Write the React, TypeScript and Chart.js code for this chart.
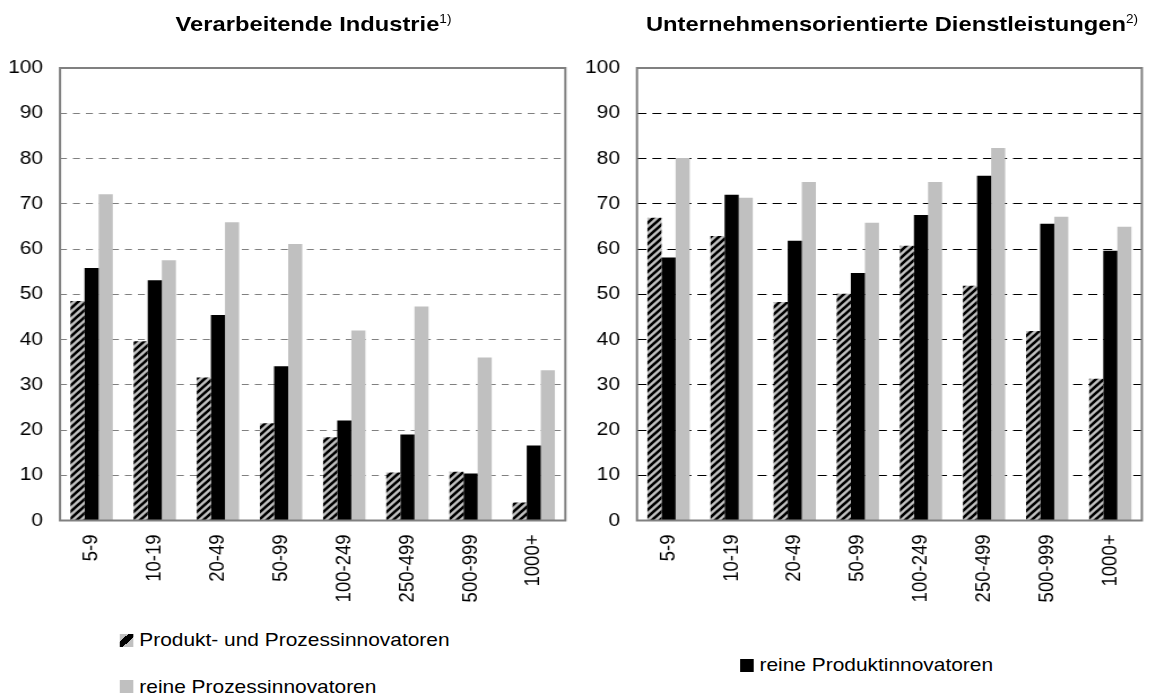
import React, { useEffect, useRef } from 'react';
import { Chart, registerables } from 'chart.js';

Chart.register(...registerables);

// ---------- data ----------
const categories = ['5-9', '10-19', '20-49', '50-99', '100-249', '250-499', '500-999', '1000+'];
const seriesNames = [
  'Produkt- und Prozessinnovatoren',
  'reine Produktinnovatoren',
  'reine Prozessinnovatoren',
];

const industryProduktProzess = [48.5, 39.6, 31.6, 21.5, 18.4, 10.6, 10.8, 4.0];
const industryProdukt = [55.8, 53.1, 45.4, 34.1, 22.1, 19.0, 10.4, 16.6];
const industryProzess = [72.1, 57.5, 65.9, 61.1, 42.0, 47.3, 36.0, 33.2];

const servicesProduktProzess = [66.9, 62.9, 48.3, 50.1, 60.7, 51.9, 41.9, 31.3];
const servicesProdukt = [58.1, 72.0, 61.8, 54.7, 67.5, 76.2, 65.6, 59.6];
const servicesProzess = [80.1, 71.3, 74.8, 65.8, 74.8, 82.3, 67.1, 64.9];

const yMin = 0;
const yMax = 100;
const yStep = 10;

const titleIndustry = 'Verarbeitende Industrie';
const noteIndustry = '1)';
const titleServices = 'Unternehmensorientierte Dienstleistungen';
const noteServices = '2)';

// ---------- style / layout ----------
const FONT = '"Liberation Sans", Arial, Helvetica, sans-serif';
const S = 1.13; // horizontal stretch of the reference picture
const CANVAS_H = 620;
const PLOT_TOP = 68;
const PLOT_BOTTOM = 520.5;
const GRAY = '#c0c0c0';

Chart.defaults.font.family = FONT;

function makeHatch(): CanvasPattern | string {
  const c = document.createElement('canvas');
  const n = 7;
  c.width = n;
  c.height = n;
  const g = c.getContext('2d');
  if (!g) return GRAY;
  g.fillStyle = GRAY;
  g.fillRect(0, 0, n, n);
  g.strokeStyle = '#000';
  g.lineWidth = 2.6;
  g.lineCap = 'square';
  const seg = (x1: number, y1: number, x2: number, y2: number) => {
    g.beginPath();
    g.moveTo(x1, y1);
    g.lineTo(x2, y2);
    g.stroke();
  };
  seg(-1, n + 1, n + 1, -1);
  seg(-n / 2 - 1, n / 2 + 1, n / 2 + 1, -n / 2 - 1);
  seg(n / 2 - 1, n * 1.5 + 1, n * 1.5 + 1, n / 2 - 1);
  const p = g.createPattern(c, 'repeat');
  return p || GRAY;
}

const framePlugin = {
  id: 'frame',
  afterDatasetsDraw(chart: any, _args: any, opts: any) {
    const { ctx, chartArea: a } = chart;
    ctx.save();
    ctx.strokeStyle = opts.color || '#808080';
    ctx.lineWidth = opts.width || 2;
    ctx.setLineDash([]);
    ctx.strokeRect(a.left, a.top, a.right - a.left, a.bottom - a.top);
    ctx.restore();
  },
};

type PanelProps = {
  left: number;
  width: number;
  pp: number[];
  prod: number[];
  proz: number[];
  gridColor: string;
  dash: number[];
  yAxisWidth: number;
  padRight: number;
};

function BarPanel({ left, width, pp, prod, proz, gridColor, dash, yAxisWidth, padRight }: PanelProps) {
  const ref = useRef<HTMLCanvasElement>(null);
  useEffect(() => {
    if (!ref.current) return;
    const hatch = makeHatch();
    const chart = new Chart(ref.current, {
      type: 'bar',
      data: {
        labels: categories,
        datasets: [
          { label: seriesNames[0], data: pp, backgroundColor: hatch as any, borderWidth: 0 },
          { label: seriesNames[1], data: prod, backgroundColor: '#000000', borderWidth: 0 },
          { label: seriesNames[2], data: proz, backgroundColor: GRAY, borderWidth: 0 },
        ],
      },
      options: {
        animation: false,
        responsive: true,
        maintainAspectRatio: false,
        events: [],
        layout: { padding: { top: PLOT_TOP, right: padRight, left: 0, bottom: 0 } },
        datasets: { bar: { categoryPercentage: 0.67, barPercentage: 1.0 } },
        plugins: {
          legend: { display: false },
          tooltip: { enabled: false },
          title: { display: false },
          frame: { color: '#808080', width: 2 },
        } as any,
        scales: {
          x: {
            grid: { display: false, drawTicks: false },
            border: { display: false },
            ticks: {
              autoSkip: false,
              minRotation: 90,
              maxRotation: 90,
              padding: 14,
              color: '#000',
              font: { size: 18.5, family: FONT },
            },
            afterFit: (s: any) => {
              s.height = CANVAS_H - PLOT_BOTTOM;
            },
          },
          y: {
            min: yMin,
            max: yMax,
            ticks: {
              stepSize: yStep,
              padding: 15,
              color: '#000',
              font: { size: 18.5, family: FONT },
            },
            grid: { color: gridColor, lineWidth: 1, drawTicks: false },
            border: { display: false, dash },
            afterFit: (s: any) => {
              s.width = yAxisWidth;
            },
          },
        },
      },
      plugins: [framePlugin as any],
    });
    return () => chart.destroy();
  }, []);
  return (
    <div style={{ position: 'absolute', left, top: 0, width, height: CANVAS_H }}>
      <canvas ref={ref} />
    </div>
  );
}

function Title({ left, width, text, note }: { left: number; width: number; text: string; note: string }) {
  return (
    <div
      style={{
        position: 'absolute',
        left,
        width,
        top: 12.4,
        textAlign: 'center',
        fontWeight: 'bold',
        fontSize: 21,
        lineHeight: '24px',
        whiteSpace: 'nowrap',
        color: '#000',
      }}
    >
      {text}
      <span style={{ fontSize: 12, fontWeight: 'normal', position: 'relative', top: -8 }}>{note}</span>
    </div>
  );
}

function LegendItem({ left, top, swatch, text }: { left: number; top: number; swatch: string; text: string }) {
  return (
    <div
      style={{
        position: 'absolute',
        left,
        top,
        height: 20,
        display: 'flex',
        alignItems: 'center',
        fontSize: 18.5,
        lineHeight: '20px',
        whiteSpace: 'nowrap',
        color: '#000',
      }}
    >
      <span style={{ display: 'inline-block', width: 11.8, height: 13, background: swatch, marginRight: 5.3 }} />
      <span>{text}</span>
    </div>
  );
}

const HATCH_SWATCH = `linear-gradient(135deg, ${GRAY} 0 30%, #000 30% 62%, ${GRAY} 62% 100%)`;

export default function App() {
  return (
    <div
      style={{
        position: 'absolute',
        left: 0,
        top: 0,
        width: 1151 / S,
        height: 698,
        overflow: 'hidden',
        transform: `scaleX(${S})`,
        transformOrigin: '0 0',
        fontFamily: FONT,
        background: '#fff',
      }}
    >
      <BarPanel
        left={0}
        width={509}
        pp={industryProduktProzess}
        prod={industryProdukt}
        proz={industryProzess}
        gridColor="#808080"
        dash={[6.2, 5.3]}
        yAxisWidth={53.1}
        padRight={7.2}
      />
      <BarPanel
        left={509}
        width={510}
        pp={servicesProduktProzess}
        prod={servicesProdukt}
        proz={servicesProzess}
        gridColor="#000000"
        dash={[8, 5.3]}
        yAxisWidth={54.7}
        padRight={4}
      />
      <Title left={53.1} width={448.7} text={titleIndustry} note={noteIndustry} />
      <Title left={563.7} width={451.3} text={titleServices} note={noteServices} />
      <LegendItem left={106.2} top={630} swatch={HATCH_SWATCH} text={seriesNames[0]} />
      <LegendItem left={106.2} top={676.7} swatch={GRAY} text={seriesNames[2]} />
      <LegendItem left={655} top={655} swatch="#000" text={seriesNames[1]} />
    </div>
  );
}
